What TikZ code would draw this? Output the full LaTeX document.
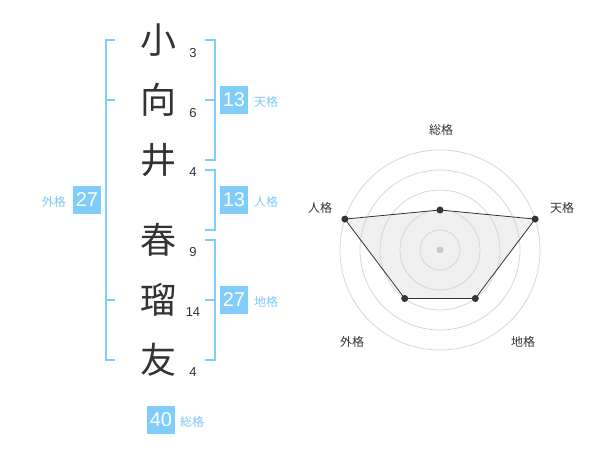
\documentclass[tikz,border=0pt]{standalone}
\usepackage{fontspec}
\setmainfont{Liberation Sans}
\newfontfamily\cjk{Noto Sans CJK JP}
\definecolor{skyb}{RGB}{128,204,250}
\definecolor{skyt}{RGB}{125,200,245}
\definecolor{ink}{RGB}{51,51,51}
\definecolor{ringc}{RGB}{210,210,210}
\definecolor{polyf}{RGB}{240,240,240}
\definecolor{cdot}{RGB}{200,200,200}
\begin{document}
\begin{tikzpicture}[x=1pt,y=-1pt,
  kanji/.style={inner sep=0pt,text=ink,font=\cjk\fontsize{36}{36}\selectfont},
  strokes/.style={inner sep=0pt,text=ink,font=\fontsize{13}{13}\selectfont},
  badge/.style={fill=skyb,text=white,minimum width=28pt,minimum height=28pt,inner sep=0pt,font=\fontsize{20}{20}\selectfont},
  blabel/.style={inner sep=0pt,text=skyt,font=\cjk\fontsize{12}{12}\selectfont},
  bracket/.style={draw=skyb,line width=2pt},
  ring/.style={draw=ringc,line width=0.7pt},
  rlabel/.style={inner sep=0pt,text=ink,font=\cjk\fontsize{12}{12}\selectfont},
  dot/.style={circle,fill=ink,inner sep=0pt,minimum size=7pt}
]
\useasboundingbox (0,0) rectangle (600,470);
% kanji
\node[kanji] (k1) at (158,40) {小};
\node[kanji] (k2) at (158,100) {向};
\node[kanji] (k3) at (158,160) {井};
\node[kanji] (k4) at (158,240) {春};
\node[kanji] (k5) at (158,300) {瑠};
\node[kanji] (k6) at (158,360) {友};
% stroke counts
\node[strokes] (s1) at (193,53) {3};
\node[strokes] (s2) at (193,113) {6};
\node[strokes] (s3) at (193,172) {4};
\node[strokes] (s4) at (193,252) {9};
\node[strokes] (s5) at (193,312) {14};
\node[strokes] (s6) at (193,372) {4};
% brackets
\draw[bracket] (115,40) -- (106,40) -- (106,360) -- (115,360);
\draw[bracket] (106,100) -- (115,100);
\draw[bracket] (106,300) -- (115,300);
\draw[bracket] (205,40) -- (215,40) -- (215,160) -- (205,160);
\draw[bracket] (205,100) -- (215,100);
\draw[bracket] (205,170) -- (215,170) -- (215,230) -- (205,230);
\draw[bracket] (205,240) -- (215,240) -- (215,360) -- (205,360);
\draw[bracket] (205,300) -- (215,300);
% badges
\node[badge] (ten) at (234,100) {13};
\node[blabel,anchor=west] (tenl) at (254,102) {天格};
\node[badge] (jin) at (234,200) {13};
\node[blabel,anchor=west] (jinl) at (254,202) {人格};
\node[badge] (chi) at (234,300) {27};
\node[blabel,anchor=west] (chil) at (254,302) {地格};
\node[badge] (gai) at (87,200) {27};
\node[blabel,anchor=east] (gail) at (66,202) {外格};
\node[badge] (sou) at (161,420) {40};
\node[blabel,anchor=west] (soul) at (180,422) {総格};
% radar
\coordinate (c) at (440,250);
\path (c) ++(0,-40) coordinate (pS);
\path (c) ++(95.1,-30.9) coordinate (pT);
\path (c) ++(35.3,48.5) coordinate (pC);
\path (c) ++(-35.3,48.5) coordinate (pG);
\path (c) ++(-95.1,-30.9) coordinate (pJ);
\fill[polyf] (pS) -- (pT) -- (pC) -- (pG) -- (pJ) -- cycle;
\foreach \r in {20,40,60,80,100} \draw[ring] (c) circle[radius=\r];
\fill[cdot] (c) circle[radius=3.5];
\draw[draw=ink,line width=0.8pt] (pS) -- (pT) -- (pC) -- (pG) -- (pJ) -- cycle;
\foreach \p in {pS,pT,pC,pG,pJ} \node[dot] at (\p) {};
\node[rlabel] (rS) at (441,130) {総格};
\node[rlabel] (rT) at (562,208) {天格};
\node[rlabel] (rJ) at (320,208) {人格};
\node[rlabel] (rG) at (352,342) {外格};
\node[rlabel] (rC) at (523,342) {地格};
\end{tikzpicture}
\end{document}
